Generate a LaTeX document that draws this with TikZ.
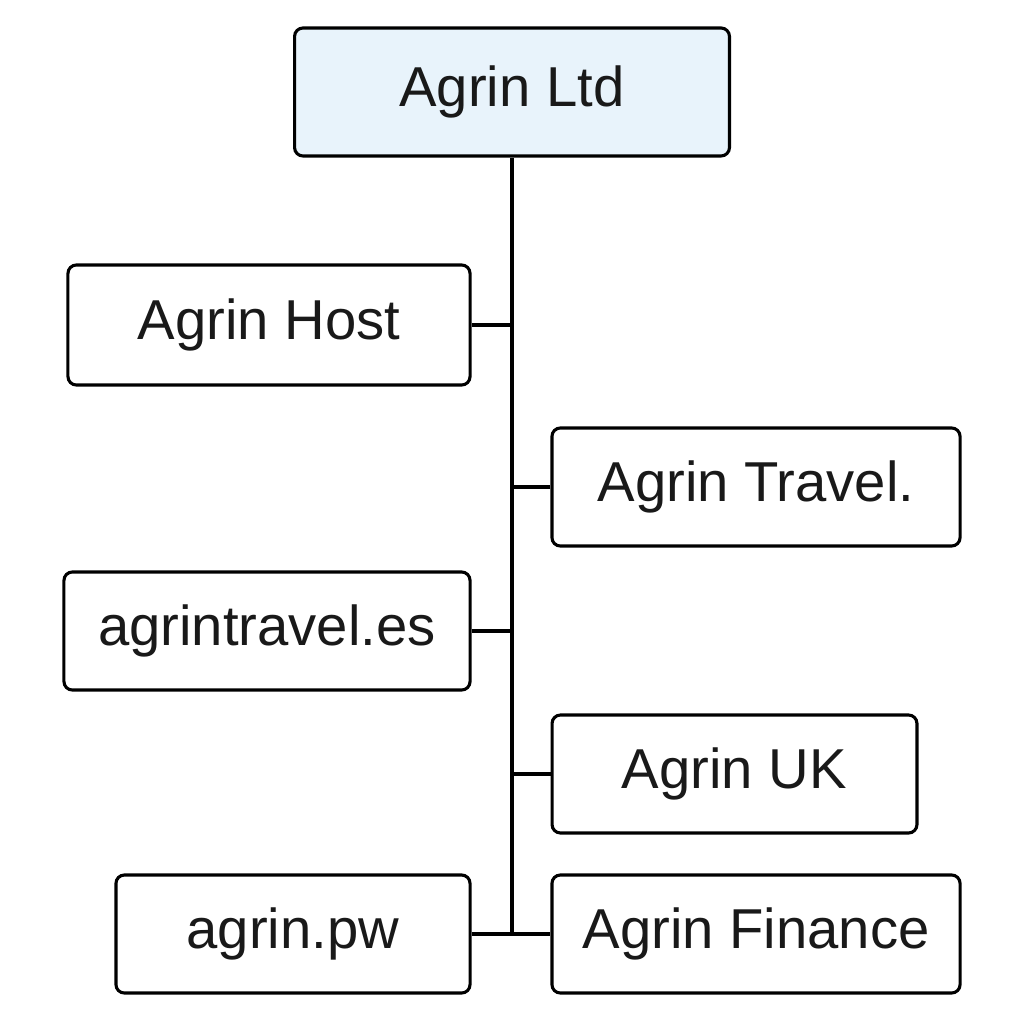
\documentclass[tikz,border=0pt]{standalone}
\usepackage{fontspec}
\setmainfont{Liberation Sans}
\usetikzlibrary{calc}
\definecolor{rootfill}{HTML}{E8F3FB}

\begin{document}
\begin{tikzpicture}[x=0.025cm,y=-0.025cm,
    unit/.style={draw,line width=2.2pt,rounded corners=6pt,inner sep=0pt,
      font=\fontsize{40}{46}\selectfont,text=black!90},
    link/.style={line width=2.2pt}]

	\useasboundingbox (0,0) rectangle (1024,1024);

	\node[unit,fill=rootfill,minimum width=10.87cm,minimum height=3.2cm] (ltd) at (512,92) {Agrin Ltd};
	\node[unit,minimum width=10.05cm,minimum height=3cm] (host) at (269,325) {Agrin Host};
	\node[unit,minimum width=10.2cm,minimum height=2.95cm] (travel) at (756,487) {Agrin Travel.};
	\node[unit,minimum width=10.15cm,minimum height=2.95cm] (es) at (267,631) {agrintravel.es};
	\node[unit,minimum width=9.12cm,minimum height=2.95cm] (uk) at (734.5,774) {Agrin UK};
	\node[unit,minimum width=8.85cm,minimum height=2.95cm] (pw) at (293,934) {agrin.pw};
	\node[unit,minimum width=10.2cm,minimum height=2.95cm] (fin) at (756,934) {Agrin Finance};

	\coordinate (trunk) at (512,934);
	\draw[link] (ltd.south) -- (trunk);
	\draw[link] (host.east) -- (host.east -| trunk);
	\draw[link] (travel.west) -- (travel.west -| trunk);
	\draw[link] (es.east) -- (es.east -| trunk);
	\draw[link] (uk.west) -- (uk.west -| trunk);
	\draw[link] (pw.east) -- (fin.west);

\end{tikzpicture}
\end{document}
